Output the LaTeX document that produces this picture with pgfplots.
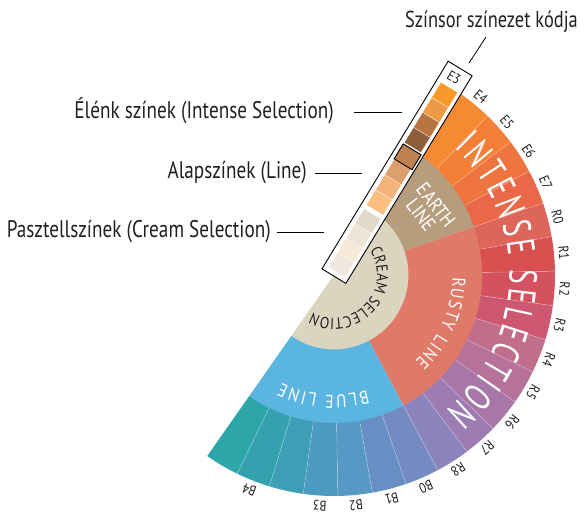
\documentclass[border=0pt]{standalone}
\usepackage{pgfplots}
\pgfplotsset{compat=1.18}
\usepackage{fontspec}
\setmainfont{PT Sans}[FakeStretch=0.80]
\newfontfamily\bigfont{PT Sans}[FakeStretch=0.70]
\newfontfamily\midfont{PT Sans}[FakeStretch=0.86]
\usetikzlibrary{decorations.text}

% ring colours
\definecolor{cream}{HTML}{DBD5BF}
\definecolor{earth}{HTML}{B59D7E}
\definecolor{rusty}{HTML}{E07A68}
\definecolor{blueline}{HTML}{5BB5E1}
% outer ring
\definecolor{o0}{HTML}{F68A33}
\definecolor{o1}{HTML}{F47F37}
\definecolor{o2}{HTML}{EE7440}
\definecolor{o3}{HTML}{EA6848}
\definecolor{o4}{HTML}{DE6559}
\definecolor{o5}{HTML}{DA4F50}
\definecolor{o6}{HTML}{D4525F}
\definecolor{o7}{HTML}{CD5670}
\definecolor{o8}{HTML}{C06E8C}
\definecolor{o9}{HTML}{B6729A}
\definecolor{o10}{HTML}{A877A8}
\definecolor{o11}{HTML}{9D7CB3}
\definecolor{o12}{HTML}{8B84BD}
\definecolor{o13}{HTML}{768AC2}
\definecolor{o14}{HTML}{688FC4}
\definecolor{o15}{HTML}{5898C5}
\definecolor{o16}{HTML}{4A9BBF}
\definecolor{o17}{HTML}{3E9EB6}
\definecolor{o18}{HTML}{33A2AE}
\definecolor{o19}{HTML}{2DA6AA}
% strip squares
\definecolor{s1}{HTML}{F0E7DF}
\definecolor{s2}{HTML}{F5E9D7}
\definecolor{s3}{HTML}{EDE4D8}
\definecolor{s4}{HTML}{E3D9C9}
\definecolor{s5}{HTML}{FBBE80}
\definecolor{s6}{HTML}{F3B27A}
\definecolor{s7}{HTML}{DDA06C}
\definecolor{s8}{HTML}{BD8152}
\definecolor{s9}{HTML}{8E5F3D}
\definecolor{s10}{HTML}{B87440}
\definecolor{s11}{HTML}{ED9A46}
\definecolor{s12}{HTML}{F8992A}
\definecolor{txt}{HTML}{231F20}

% wedge: inner radius, outer radius, low angle, high angle, colour
\newcommand{\seg}[5]{%
  \addplot[fill=#5, draw=none, domain=#3:#4, samples=16, variable=\t]
    ({334+#2*cos(\t)},{237+#2*sin(\t)}) -- ({334+#1*cos(#4)},{237+#1*sin(#4)})
    arc[start angle=#4, end angle=#3, radius=#1pt] -- cycle;
}
% segment label: angle, text
\newcommand{\lab}[2]{%
  \node[rotate=#1-90, font=\midfont\fontsize{14}{14}\selectfont, text=txt, inner sep=0pt]
    at (axis cs:{334+231*cos(#1)},{237+231*sin(#1)}) {#2};
}

\begin{document}
\begin{tikzpicture}
\begin{axis}[x=1pt, y=1pt, xmin=0, xmax=584, ymin=0, ymax=512,
  hide axis, scale only axis, clip=false, anchor=south west, at={(0,0)}]

% inner half-disk: Cream Selection
\addplot[fill=cream, draw=none, domain=-125:55, samples=90, variable=\t]
  ({334+75*cos(\t)},{237+75*sin(\t)}) -- (axis cs:334,237) -- cycle;

% middle ring: lines
\seg{74.5}{148.5}{19}{55}{earth}
\seg{74.5}{148.5}{-62}{19}{rusty}
\seg{74.5}{148.5}{-125}{-62}{blueline}

% outer ring: 20 shades
\seg{148}{221}{46}{55}{o0}
\seg{148}{221}{37}{46}{o1}
\seg{148}{221}{28}{37}{o2}
\seg{148}{221}{19}{28}{o3}
\seg{148}{221}{10}{19}{o4}
\seg{148}{221}{1}{10}{o5}
\seg{148}{221}{-8}{1}{o6}
\seg{148}{221}{-17}{-8}{o7}
\seg{148}{221}{-26}{-17}{o8}
\seg{148}{221}{-35}{-26}{o9}
\seg{148}{221}{-44}{-35}{o10}
\seg{148}{221}{-53}{-44}{o11}
\seg{148}{221}{-62}{-53}{o12}
\seg{148}{221}{-71}{-62}{o13}
\seg{148}{221}{-80}{-71}{o14}
\seg{148}{221}{-89}{-80}{o15}
\seg{148}{221}{-98}{-89}{o16}
\seg{148}{221}{-107}{-98}{o17}
\seg{148}{221}{-116}{-107}{o18}
\seg{148}{221}{-125}{-116}{o19}

% thin separators in outer ring
\pgfplotsinvokeforeach{46,37,28,19,10,1,-8,-17,-26,-35,-44,-53,-62,-71,-80,-89,-98,-107,-116}{
  \addplot[white, draw opacity=0.45, line width=0.4pt, domain=148:221, samples=2, variable=\r]
    ({334+\r*cos(#1)},{237+\r*sin(#1)});
}

% curved titles
\path[decorate, decoration={text along path, text align={fit to path},
   text color=white, text={|\bigfont\fontsize{39}{39}\selectfont|INTENSE SELECTION}}]
  (axis cs:{334+175.5*cos(46.5)},{237+175.5*sin(46.5)}) arc[start angle=46.5, end angle=-50.5, radius=175.5pt];
\path[decorate, decoration={text along path, text align={fit to path},
   text color=white, text={|\midfont\fontsize{18.5}{18.5}\selectfont|RUSTY LINE}}]
  (axis cs:{334+118.5*cos(-1)},{237+118.5*sin(-1)}) arc[start angle=-1, end angle=-47, radius=118.5pt];
\path[decorate, decoration={text along path, text align={fit to path},
   text color=white, text={|\midfont\fontsize{18.5}{18.5}\selectfont|BLUE LINE}}]
  (axis cs:{334+120*cos(-74)},{237+120*sin(-74)}) arc[start angle=-74, end angle=-116, radius=120pt];
\path[decorate, decoration={text along path, text align={fit to path},
   text color=txt, text={|\midfont\fontsize{16}{16}\selectfont|CREAM SELECTION}}]
  (axis cs:{334+43*cos(34)},{237+43*sin(34)}) arc[start angle=34, end angle=-120, radius=43pt];

\node[rotate=-52, text=white, font=\midfont\fontsize{20}{20}\selectfont, inner sep=0pt] at (axis cs:436,307) {EARTH};
\node[rotate=-52, text=white, font=\midfont\fontsize{20}{20}\selectfont, inner sep=0pt] at (axis cs:421,297) {LINE};

% segment labels
\lab{50.5}{E4}
\lab{41.5}{E5}
\lab{32.5}{E6}
\lab{23.5}{E7}
\lab{14.5}{R0}
\lab{5.5}{R1}
\lab{-3.5}{R2}
\lab{-12.5}{R3}
\lab{-21.5}{R4}
\lab{-30.5}{R5}
\lab{-39.5}{R6}
\lab{-48.5}{R7}
\lab{-57.5}{R8}
\lab{-66.5}{B0}
\lab{-75.5}{B1}
\lab{-84.5}{B2}
\lab{-93.5}{B3}
\lab{-111.5}{B4}

% colour strip box
\begin{scope}[shift={(axis cs:334,237)}, rotate=58.7]
  \draw[black, line width=0.9pt, fill=white] (-1pt,-14.5pt) rectangle (242pt,13.5pt);
  \fill[s1] (4pt,-10.5pt) rectangle (21pt,8.5pt);
  \fill[s2] (21pt,-10.5pt) rectangle (38pt,8.5pt);
  \fill[s3] (38pt,-10.5pt) rectangle (55pt,8.5pt);
  \fill[s4] (55pt,-10.5pt) rectangle (72pt,8.5pt);
  \fill[s5] (77pt,-10.5pt) rectangle (94.5pt,8.5pt);
  \fill[s6] (94.5pt,-10.5pt) rectangle (112pt,8.5pt);
  \fill[s7] (112pt,-10.5pt) rectangle (130pt,8.5pt);
  \fill[s9] (150pt,-10.5pt) rectangle (167.5pt,8.5pt);
  \fill[s10] (167.5pt,-10.5pt) rectangle (185pt,8.5pt);
  \fill[s11] (185pt,-10.5pt) rectangle (202.5pt,8.5pt);
  \fill[s12] (202.5pt,-10.5pt) rectangle (220pt,8.5pt);
  \draw[white, line width=0.3pt] (21pt,-10.5pt) -- (21pt,8.5pt) (38pt,-10.5pt) -- (38pt,8.5pt) (55pt,-10.5pt) -- (55pt,8.5pt)
     (94.5pt,-10.5pt) -- (94.5pt,8.5pt) (112pt,-10.5pt) -- (112pt,8.5pt)
     (167.5pt,-10.5pt) -- (167.5pt,8.5pt) (185pt,-10.5pt) -- (185pt,8.5pt) (202.5pt,-10.5pt) -- (202.5pt,8.5pt);
  \draw[black, line width=0.9pt, fill=s8] (130.5pt,-12pt) rectangle (148pt,9pt);
\end{scope}
\node[rotate=-31.3, font=\midfont\fontsize{14}{14}\selectfont, text=txt, inner sep=0pt]
  at (axis cs:{334+231*cos(58.7)},{237+231*sin(58.7)}) {E3};

% callouts
\node[anchor=east, font=\fontsize{24}{26}\selectfont, text=txt, inner sep=0pt] at (axis cs:334,401) {Élénk színek (Intense Selection)};
\node[anchor=east, font=\fontsize{24}{26}\selectfont, text=txt, inner sep=0pt] at (axis cs:307,339) {Alapszínek (Line)};
\node[anchor=east, font=\fontsize{24}{26}\selectfont, text=txt, inner sep=0pt] at (axis cs:271,280) {Pasztellszínek (Cream Selection)};
\node[anchor=east, font=\fontsize{23}{25}\selectfont, text=txt, inner sep=0pt] at (axis cs:578,490) {Színsor színezet kódja};
\draw[black, line width=0.8pt] (axis cs:354,400) -- (axis cs:402,400);
\draw[black, line width=0.8pt] (axis cs:315,339) -- (axis cs:362,339);
\draw[black, line width=0.8pt] (axis cs:277,280) -- (axis cs:324,280);
\draw[black, line width=0.8pt] (axis cs:486,475) -- (axis cs:469,449);
\end{axis}
\pgfresetboundingbox
\path (0,0) rectangle (584pt,512pt);
\end{tikzpicture}
\end{document}
